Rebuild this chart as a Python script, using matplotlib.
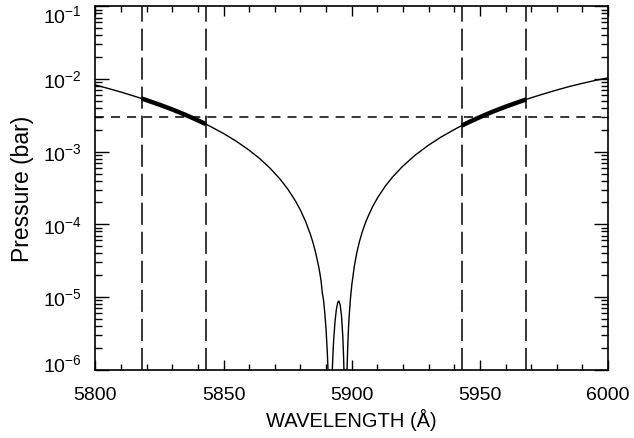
import matplotlib
matplotlib.use('Agg')
import matplotlib.pyplot as plt
import matplotlib.transforms as mtransforms
import numpy as np

plt.rcParams['font.family'] = ['Liberation Sans', 'DejaVu Sans']
plt.rcParams['mathtext.fontset'] = 'custom'
plt.rcParams['mathtext.rm'] = 'Liberation Sans'

# curve: wavelength (A) and log10 pressure (bar)
wave = [5800.0, 5805.0, 5810.0, 5815.0, 5818.0, 5820.0, 5825.0, 5830.0,
        5835.0, 5840.0, 5843.0, 5845.0, 5850.0, 5855.0, 5860.0, 5864.0,
        5868.0, 5872.0, 5875.0, 5878.0, 5880.0, 5882.0, 5884.0, 5885.0,
        5886.0, 5887.0, 5887.5, 5888.0, 5888.5, 5889.0, 5889.5, 5890.0,
        5890.5, 5890.8, 5891.0,
        5892.0, 5892.2, 5892.4, 5892.6, 5892.8, 5893.0, 5893.5, 5894.0,
        5894.5, 5894.8, 5895.0, 5895.5, 5896.0, 5896.5, 5896.8, 5897.0,
        5897.2,
        5898.0, 5898.2, 5898.5, 5898.75, 5899.0, 5899.5, 5900.0, 5901.0,
        5902.0, 5903.0, 5904.0, 5905.0, 5906.0, 5908.0, 5910.0, 5913.0,
        5916.0, 5920.0, 5925.0, 5930.0, 5935.0, 5940.0, 5943.0, 5945.0,
        5950.0, 5955.0, 5960.0, 5965.0, 5968.0, 5970.0, 5975.0, 5980.0,
        5985.0, 5990.0, 5995.0, 6000.0]
logp = [-2.083, -2.131, -2.181, -2.235, -2.269, -2.293, -2.354, -2.420,
        -2.492, -2.570, -2.620, -2.656, -2.751, -2.858, -2.981, -3.093,
        -3.223, -3.376, -3.513, -3.676, -3.806, -3.961, -4.152, -4.267,
        -4.403, -4.565, -4.661, -4.770, -4.939, -5.044, -5.226, -5.460,
        -5.786, -6.067, -6.323,
        -6.603, -6.266, -6.026, -5.840, -5.689, -5.564, -5.327, -5.171,
        -5.080, -5.058, -5.057, -5.110, -5.257, -5.535, -5.803, -6.060,
        -6.438,
        -6.264, -5.943, -5.617, -5.419, -5.262, -5.021, -4.840, -4.577,
        -4.387, -4.238, -4.116, -4.012, -3.921, -3.767, -3.639, -3.479,
        -3.346, -3.197, -3.041, -2.910, -2.796, -2.696, -2.641, -2.606,
        -2.525, -2.450, -2.382, -2.319, -2.283, -2.259, -2.204, -2.152,
        -2.103, -2.060, -2.020, -1.985]

band_left = [5818, 5843]
band_right = [5943, 5968]
p_level = 3e-3

xticks = [5800, 5850, 5900, 5950, 6000]
yticks = [1e-6, 1e-5, 1e-4, 1e-3, 1e-2, 1e-1]
ylabels = [r'$10^{-6}$', r'$10^{-5}$', r'$10^{-4}$', r'$10^{-3}$',
           r'$10^{-2}$', r'$10^{-1}$']

wave = np.array(wave)
pres = 10 ** np.array(logp)

fig = plt.figure(figsize=(6.34, 4.39), dpi=100)
ax = fig.add_axes([0.1506, 0.1556, 0.8084, 0.8278])

ax.plot(wave, pres, color='black', lw=1.0)
for lo, hi in (band_left, band_right):
    m = (wave >= lo) & (wave <= hi)
    ax.plot(wave[m], pres[m], color='black', lw=3.2, solid_capstyle='butt')
    for xv in (lo, hi):
        ax.axvline(xv, color='black', lw=1.1, dashes=(14.5, 4.5))
ax.axhline(p_level, color='black', lw=1.1, dashes=(5.9, 4.6))

ax.set_yscale('log')
ax.set_xlim(5800, 6000)
ax.set_ylim(1e-6, 1e-1)
ax.set_xticks(xticks)
ax.set_xticks(np.arange(5800, 6001, 10), minor=True)
ax.set_yticks(yticks, ylabels)

ax.tick_params(which='both', direction='in', top=True, right=True,
               labelsize=14, width=1, colors='black')
ax.tick_params(axis='x', which='major', length=7, pad=12)
ax.tick_params(axis='x', which='minor', length=4)
ax.tick_params(axis='y', which='major', length=10, pad=10)
ax.tick_params(axis='y', which='minor', length=5)

# like IDL, pull the end labels inside the axis range
ylab = ax.get_yticklabels()
for lab, dy in ((ylab[0], 7), (ylab[-1], -8)):
    off = mtransforms.ScaledTranslation(0, dy / 100, fig.dpi_scale_trans)
    lab.set_transform(lab.get_transform() + off)

for s in ax.spines.values():
    s.set_linewidth(1.2)

ax.set_xlabel('WAVELENGTH (Å)', fontsize=14.5, labelpad=3)
ax.set_ylabel('Pressure (bar)', fontsize=16.5, labelpad=6)

fig.savefig('out.png', dpi=100)
